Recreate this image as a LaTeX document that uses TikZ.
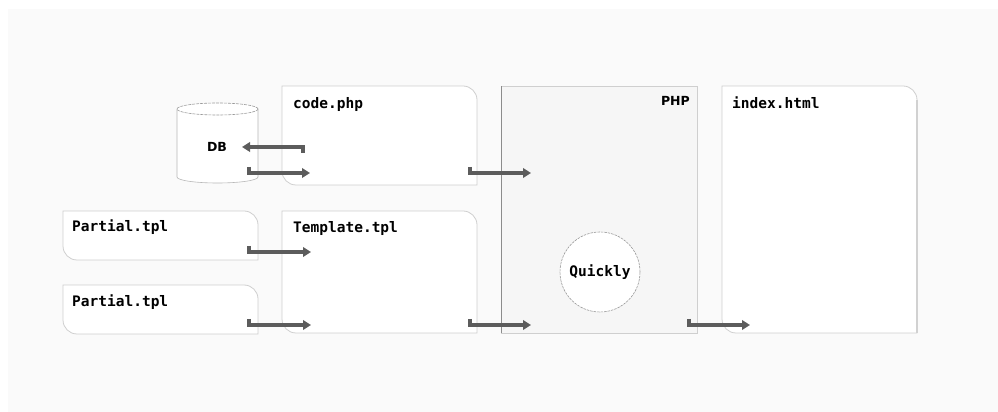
\documentclass[tikz,border=0pt]{standalone}
\usepackage{fontspec}
\usetikzlibrary{arrows.meta}
\newfontfamily\monob{DejaVu Sans Mono}
\newfontfamily\sansb{DejaVu Sans}
\definecolor{panel}{HTML}{FAFAFA}
\definecolor{phpfill}{HTML}{F6F6F6}
\definecolor{boxline}{HTML}{CFCFCF}
\definecolor{arrowc}{HTML}{5C5C5C}
\definecolor{dbline}{HTML}{9A9A9A}
\tikzset{
  area/.style={draw=none, inner sep=0pt, outer sep=0pt, rectangle},
  docline/.style={fill=white, draw=boxline, line width=0.8pt},
  title/.style={font=\monob\bfseries\fontsize{14.5}{16}\selectfont, inner sep=0pt, anchor=base west},
  sanslabel/.style={font=\sansb\bfseries\fontsize{12.5}{14}\selectfont, inner sep=0pt},
  flow/.style={draw=arrowc, line width=3.3pt, -{Triangle[length=8pt,width=9.5pt]}},
}
\newcommand{\docshape}[1]{%
  \draw[docline] (#1.north west) -- ([xshift=-14pt]#1.north east)
    arc[start angle=90,end angle=0,radius=14pt] -- (#1.south east)
    -- ([xshift=14pt]#1.south west)
    arc[start angle=270,end angle=180,radius=14pt] -- cycle;}
\begin{document}
\begin{tikzpicture}[x=1pt,y=1pt]
\useasboundingbox (0,0) rectangle (998,412);
\fill[white] (0,0) rectangle (998,412);
\fill[panel] (8,0) rectangle (998,403);

% areas
\node[area, minimum width=195pt, minimum height=99pt] (code) at (379.5,276.5) {};
\node[area, minimum width=195pt, minimum height=122pt] (tpl) at (379.5,140) {};
\node[area, minimum width=195pt, minimum height=49pt] (p1) at (160.5,176.5) {};
\node[area, minimum width=195pt, minimum height=49pt] (p2) at (160.5,102.5) {};
\node[area, minimum width=196pt, minimum height=247pt] (php) at (599,202.5) {};
\node[area, minimum width=195pt, minimum height=247pt] (idx) at (819.5,202.5) {};
\node[area, minimum width=81pt, minimum height=80pt] (db) at (217.5,269) {};

% PHP box
\draw[fill=phpfill, draw=boxline, line width=0.8pt] (php.south west) rectangle (php.north east);
\draw[draw=black!45, line width=0.9pt] (php.south west) -- (php.north west);

% documents
\docshape{code}
\docshape{tpl}
\docshape{p1}
\docshape{p2}
\docshape{idx}
\draw[draw=black!18, line width=1.6pt] ([yshift=-14pt]idx.north east) -- (idx.south east);

% database cylinder
\fill[white] (177,303) -- (177,235) arc[x radius=40.5pt, y radius=6pt, start angle=180, end angle=360] -- (258,303) arc[x radius=40.5pt, y radius=6pt, start angle=0, end angle=180] -- cycle;
\draw[dbline, line width=0.6pt, dash pattern=on 3pt off 1pt] (217.5,303) ellipse[x radius=40.5pt, y radius=6pt];
\draw[dbline!70, line width=0.6pt] (177,303) -- (177,235) arc[x radius=40.5pt, y radius=6pt, start angle=180, end angle=360] -- (258,303);

% circle
\node[circle, minimum size=80pt, inner sep=0pt, fill=white, draw=dbline, line width=0.6pt, dash pattern=on 2.5pt off 1pt] (quick) at (600,140) {};

% labels
\node[title] (tcode) at (293,303) {code.php};
\node[title] (ttpl) at (293,179) {Template.tpl};
\node[title] (tp1) at (72,180) {Partial.tpl};
\node[title] (tp2) at (72,105) {Partial.tpl};
\node[title] (tidx) at (732,303) {index.html};
\node[sanslabel, anchor=base east] (tphp) at (690,306) {PHP};
\node[sanslabel] (tdb) at (217,265) {DB};
\node[font=\monob\bfseries\fontsize{14.5}{16}\selectfont, inner sep=0pt] (tq) at (600,140) {Quickly};

% connector end points
\coordinate (c1s) at (303,259); \coordinate (c1k) at (303,265); \coordinate (c1e) at (242,265);
\coordinate (c2s) at (249,245); \coordinate (c2k) at (249,239); \coordinate (c2e) at (310,239);
\coordinate (c3s) at (470,245); \coordinate (c3k) at (470,239); \coordinate (c3e) at (531,239);
\coordinate (c4s) at (249,166); \coordinate (c4k) at (249,160); \coordinate (c4e) at (311,160);
\coordinate (c5s) at (249,93);  \coordinate (c5k) at (249,87);  \coordinate (c5e) at (311,87);
\coordinate (c6s) at (470,93);  \coordinate (c6k) at (470,87);  \coordinate (c6e) at (531,87);
\coordinate (c7s) at (689,93);  \coordinate (c7k) at (689,87);  \coordinate (c7e) at (750,87);

\draw[flow] (c1s) -- (c1k) -- (c1e);
\draw[flow] (c2s) -- (c2k) -- (c2e);
\draw[flow] (c3s) -- (c3k) -- (c3e);
\draw[flow] (c4s) -- (c4k) -- (c4e);
\draw[flow] (c5s) -- (c5k) -- (c5e);
\draw[flow] (c6s) -- (c6k) -- (c6e);
\draw[flow] (c7s) -- (c7k) -- (c7e);
\end{tikzpicture}
\end{document}
